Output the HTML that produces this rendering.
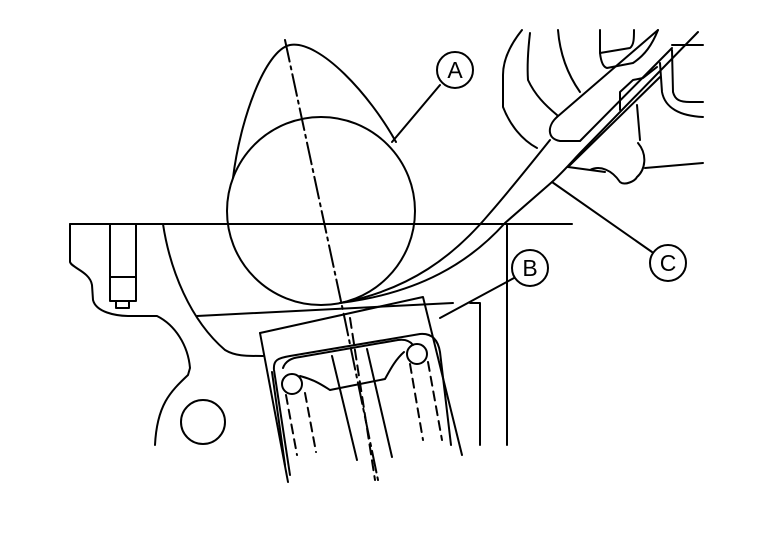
<!DOCTYPE html>
<html><head><style>html,body{margin:0;padding:0;background:#fff}svg{display:block}</style></head>
<body>
<svg width="768" height="544" viewBox="0 0 768 544" xmlns="http://www.w3.org/2000/svg" fill="none" stroke="#000" stroke-width="2" stroke-linecap="round" stroke-linejoin="round">
<!-- cam -->
<circle cx="321" cy="211" r="94"/>
<path d="M233,178 C240,120 265,50 290,45 C320,40 370,95 396,142"/>
<path d="M285,40 L345,320 L378,480" stroke-dasharray="22,5,3,5"/>
<!-- top line -->
<line x1="70" y1="224" x2="572" y2="224"/>
<!-- left block -->
<path d="M70,224 L70,262 C72,268 90,272 92,285 L93,300 C96,312 115,316 130,316 L157,316 C175,325 188,345 190,368 L188,375 C170,392 157,405 155,445"/>
<rect x="110" y="224" width="26" height="77"/>
<line x1="110" y1="277" x2="136" y2="277"/>
<rect x="116" y="301" width="13" height="7"/>
<path d="M163,224 C170,270 190,320 225,350 C235,356 245,356 263,356"/>
<circle cx="203" cy="422" r="22"/>
<line x1="197" y1="316" x2="453" y2="303"/>
<line x1="507" y1="224" x2="507" y2="445"/>
<path d="M470,303 L480,303 L480,445"/>
<!-- tappet block B -->
<path d="M260,333 L423,297 L462,455"/>
<line x1="260" y1="333" x2="288" y2="482"/>
<path d="M290,475 L274,370 C273,360 278,358 290,356 L420,334 C432,333 438,340 440,352 L451,445"/>
<path d="M285,465 L272,372"/>
<path d="M283,368 C285,362 290,358 300,357 L398,340 C405,339 410,341 413,345"/>
<circle cx="292" cy="384" r="10"/>
<circle cx="417" cy="354" r="10"/>
<path d="M300,376 C315,380 322,385 330,390 L385,379 C390,370 395,360 404,352"/>
<path d="M332,356 L357,460 M367,349 L392,457"/>
<path d="M350,318 L375,480" stroke-dasharray="10,6"/>
<path d="M286,395 L297,455 M305,393 L316,452 M410,364 L423,440 M428,362 L442,440" stroke-dasharray="9,6"/>
<!-- feeler gauge blade -->
<path d="M340,303 C410,290 455,255 490,213 C510,190 530,165 550,140"/>
<path d="M340,303 C420,293 470,262 505,223 L552,182 C565,170 575,158 583,150 L698,32"/>
<path d="M568,167 L660,77"/>
<!-- handle -->
<path d="M557,117 L658,30"/>
<path d="M557,117 C547,126 547,139 560,141 L580,141 L672,48"/>
<!-- fixture lines -->
<path d="M522,30 C510,45 503,60 503,75 L503,107 C510,125 522,140 537,148"/>
<path d="M530,33 C528,50 527,65 528,80 C535,95 545,105 557,115"/>
<path d="M558,30 C560,55 568,75 580,92"/>
<path d="M600,30 L600,53 L630,48 C634,45 634,38 634,30"/>
<path d="M600,53 C601,62 603,67 607,68 L633,63 C645,55 652,45 658,30"/>
<path d="M620,110 L620,92 L633,80 L643,78 L657,67"/>
<path d="M637,105 L640,140"/>
<path d="M672,45 L703,45"/>
<path d="M672,50 L673,92 C675,100 680,102 690,102 L703,102"/>
<path d="M660,63 L662,92 C665,108 680,116 703,117"/>
<path d="M568,167 L605,172 M590,170 C600,165 612,170 620,182 C625,186 635,181 637,177 C645,170 648,155 638,143"/>
<path d="M645,168 L703,163"/>
<!-- labels -->
<line x1="392" y1="142" x2="440" y2="85"/>
<circle cx="455" cy="70" r="18" fill="#fff"/>
<line x1="440" y1="318" x2="514" y2="278"/>
<circle cx="530" cy="268" r="18" fill="#fff"/>
<line x1="552" y1="182" x2="652" y2="252"/>
<circle cx="668" cy="263" r="18" fill="#fff"/>
<g font-family="Liberation Sans, sans-serif" font-size="23" fill="#000" stroke="none" text-anchor="middle">
<text x="455" y="78">A</text><text x="530" y="276">B</text><text x="668" y="271">C</text></g>
</svg>
</body></html>
